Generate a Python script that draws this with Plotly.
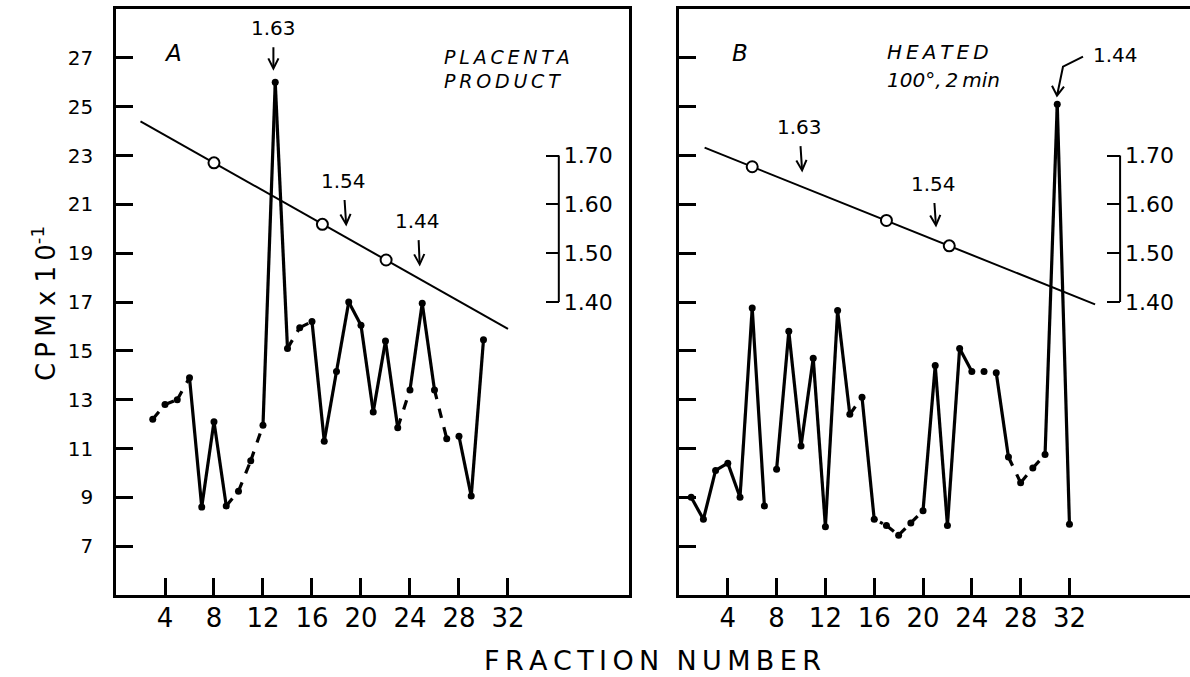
import plotly.graph_objects as go

# ---------------- data ----------------
A_fraction = list(range(3, 31))
A_cpm = [12.2, 12.8, 13.0, 13.9, 8.6, 12.1, 8.65, 9.25, 10.5, 11.95, 26.0, 15.1, 15.95, 16.2,
         11.3, 14.15, 17.0, 16.05, 12.5, 15.4, 11.85, 13.4, 16.95, 13.4, 11.4, 11.5, 9.05, 15.45]
B_fraction = list(range(1, 33))
B_cpm = [9.0, 8.1, 10.1, 10.4, 9.0, 16.75, 8.65, 10.15, 15.8, 11.1, 14.7, 7.8, 16.65, 12.4, 13.1,
         8.1, 7.85, 7.45, 7.95, 8.45, 14.4, 7.85, 15.1, 14.15, 14.15, 14.1, 10.65, 9.6, 10.2,
         10.75, 25.1, 7.9]

# density gradient (g/ml) lines and measured points
A_grad_x = [2.0, 32.0]
A_grad_density = [1.770, 1.345]
A_meas_x = [8.0, 16.85, 22.05]
A_meas_density = [1.685, 1.559, 1.486]
B_grad_x = [2.1, 34.1]
B_grad_density = [1.716, 1.395]
B_meas_x = [6.0, 17.0, 22.15]
B_meas_density = [1.677, 1.567, 1.515]

density_ticks = [1.40, 1.50, 1.60, 1.70]
cpm_ticks = list(range(7, 28, 2))
fraction_ticks = list(range(4, 33, 4))

# segment styles between consecutive points (s solid, d dash, o dot, g gap)
A_seg = list("dddsssdddssddsssssssdssdgss")
B_seg = list("ssssss" "g" "ssssss" "d" "s" "o" "ddd" "ssss" "gg" "s" "ddd" "ss")

# ---------------- layout geometry ----------------
W, H = 1190, 677
A_dom = [116 / W, 629 / W]
B_dom = [679 / W, 1.0]
X_MAX = 41.88
Y_DOM = [(H - 595) / H, (H - 9) / H]
CPM_RANGE = [5, 29]
DENS_RANGE = [0.80, 2.00]
BRACKET_X = 36.15

FONT = "DejaVu Sans"
BLACK = "#000000"
TS = "\u2009"  # thin space for letter spacing

fig = go.Figure()


def seg_xy(xs, ys, styles, kind):
    X, Y = [], []
    for i, s in enumerate(styles[:len(xs) - 1]):
        if s == kind:
            X += [xs[i], xs[i + 1], None]
            Y += [ys[i], ys[i + 1], None]
    return X, Y


def add_panel(xs, ys, styles, xa, ya, ya_d, gx, gd, mx, md):
    fig.add_trace(go.Scatter(x=gx, y=gd, xaxis=xa, yaxis=ya_d, mode="lines",
                             line=dict(color=BLACK, width=2), showlegend=False))
    fig.add_trace(go.Scatter(x=mx, y=md, xaxis=xa, yaxis=ya_d, mode="markers",
                             marker=dict(symbol="circle", size=11, color="white",
                                         line=dict(color=BLACK, width=2)),
                             showlegend=False))
    for kind, dash in (("s", "solid"), ("d", "dash"), ("o", "dot")):
        X, Y = seg_xy(xs, ys, styles, kind)
        if X:
            fig.add_trace(go.Scatter(x=X, y=Y, xaxis=xa, yaxis=ya, mode="lines",
                                     line=dict(color=BLACK, width=3.2, dash=dash),
                                     connectgaps=False, showlegend=False))
    fig.add_trace(go.Scatter(x=xs, y=ys, xaxis=xa, yaxis=ya, mode="markers",
                             marker=dict(color=BLACK, size=7), showlegend=False))


add_panel(A_fraction, A_cpm, A_seg, "x", "y", "y3", A_grad_x, A_grad_density, A_meas_x, A_meas_density)
add_panel(B_fraction, B_cpm, B_seg, "x2", "y2", "y4", B_grad_x, B_grad_density, B_meas_x, B_meas_density)

axis_common = dict(showgrid=False, zeroline=False, linecolor=BLACK, linewidth=2.5,
                   ticks="inside", ticklen=17, tickwidth=2.5, tickcolor=BLACK, automargin=False)
xfont = dict(family=FONT, size=26, color=BLACK)

fig.update_layout(
    width=W, height=H, template="none",
    margin=dict(l=0, r=0, t=0, b=0),
    paper_bgcolor="white", plot_bgcolor="white",
    showlegend=False,
    xaxis=dict(domain=A_dom, range=[0, X_MAX], anchor="y", mirror=True, showline=True,
               tickvals=fraction_ticks, tickfont=xfont, ticklabelstandoff=-2, **axis_common),
    yaxis=dict(domain=Y_DOM, range=CPM_RANGE, anchor="x", mirror=True, showline=True,
               tickvals=cpm_ticks, tickfont=dict(family=FONT, size=20, color=BLACK),
               ticklabelstandoff=16, **axis_common),
    xaxis2=dict(domain=B_dom, range=[0, X_MAX], anchor="y2", mirror=True, showline=True,
                tickvals=fraction_ticks, tickfont=xfont, ticklabelstandoff=-2, **axis_common),
    yaxis2=dict(domain=Y_DOM, range=CPM_RANGE, anchor="x2", mirror=False, showline=True,
                tickvals=cpm_ticks, showticklabels=False, **axis_common),
)


def dens_axis(dom):
    pos = dom[0] + BRACKET_X / X_MAX * (dom[1] - dom[0])
    return dict(range=DENS_RANGE, anchor="free", position=pos, side="right",
                showgrid=False, zeroline=False, showline=False,
                tickvals=density_ticks, ticktext=[f"{v:.2f}" for v in density_ticks],
                ticks="inside", ticklen=13, tickwidth=2, tickcolor=BLACK,
                ticklabelstandoff=4,
                tickfont=dict(family=FONT, size=22, color=BLACK), automargin=False)


fig.update_layout(yaxis3=dict(overlaying="y", **dens_axis(A_dom)),
                  yaxis4=dict(overlaying="y2", **dens_axis(B_dom)))

for xr, yr in (("x", "y3"), ("x2", "y4")):
    fig.add_shape(type="line", xref=xr, yref=yr, x0=BRACKET_X, x1=BRACKET_X,
                  y0=density_ticks[0], y1=density_ticks[-1], line=dict(color=BLACK, width=2))

ann_font = dict(family=FONT, size=20, color=BLACK)


def arrow(xr, yr, x, y, text, ay, ax=0):
    fig.add_annotation(xref=xr, yref=yr, x=x, y=y, text=text, showarrow=True,
                       ax=ax, ay=ay, arrowhead=5, arrowsize=1, arrowwidth=2,
                       arrowcolor=BLACK, startstandoff=6, font=ann_font)


# Panel A arrows
arrow("x", "y", 12.85, 26.47, "1.63", -43)
arrow("x", "y", 18.8, 20.09, "1.54", -46, -3)
arrow("x", "y", 24.8, 18.45, "1.44", -46, -2)
# Panel B arrows
arrow("x2", "y2", 10.1, 22.30, "1.63", -46, -3)
arrow("x2", "y2", 21.07, 20.05, "1.54", -44, -3)
# bent arrow for 1.44 in B (pixel-sized path anchored at the arrow tip)
fig.add_shape(type="path", xref="x2", yref="y2", xsizemode="pixel", ysizemode="pixel",
              xanchor=30.98, yanchor=25.45,
              path="M26,39 L6,29 L0,0 M-5,10 L0,0 L7,9",
              line=dict(color=BLACK, width=2))
fig.add_annotation(xref="x2", yref="y2", x=35.74, y=27.12, text="1.44", showarrow=False,
                   font=ann_font)


def spaced(s, sep=TS):
    return sep.join(s)


def label(x, y, text, size, xanchor="center", angle=0):
    fig.add_annotation(xref="paper", yref="paper", x=x / W, y=1 - y / H, text=text,
                       xanchor=xanchor, yanchor="middle", textangle=angle, showarrow=False,
                       borderpad=0, font=dict(family=FONT, size=size, color=BLACK))


# panel labels
big_ital = dict(family=FONT, size=23, color=BLACK)
fig.add_annotation(xref="x", yref="y", x=4.69, y=27.2, text="<i>A</i>", showarrow=False, font=big_ital)
fig.add_annotation(xref="x2", yref="y2", x=5.0, y=27.2, text="<i>B</i>", showarrow=False, font=big_ital)
label(443, 57, "<i>" + spaced("PLACENTA") + "</i>", 19, "left")
label(443, 81, "<i>" + spaced("PRODUCT") + "</i>", 19, "left")
label(886, 52, "<i>" + spaced("HEATED") + "</i>", 20, "left")
label(886, 80, "<i>100°," + TS + "2" + TS + "min</i>", 20, "left")

# axis titles
label(652, 660, spaced("FRACTION") + "  " + spaced("NUMBER"), 27)
label(44, 304, spaced("CPM") + " x " + spaced("10") + "<sup>-1</sup>", 26, angle=-90)

fig.write_html("out.html")
